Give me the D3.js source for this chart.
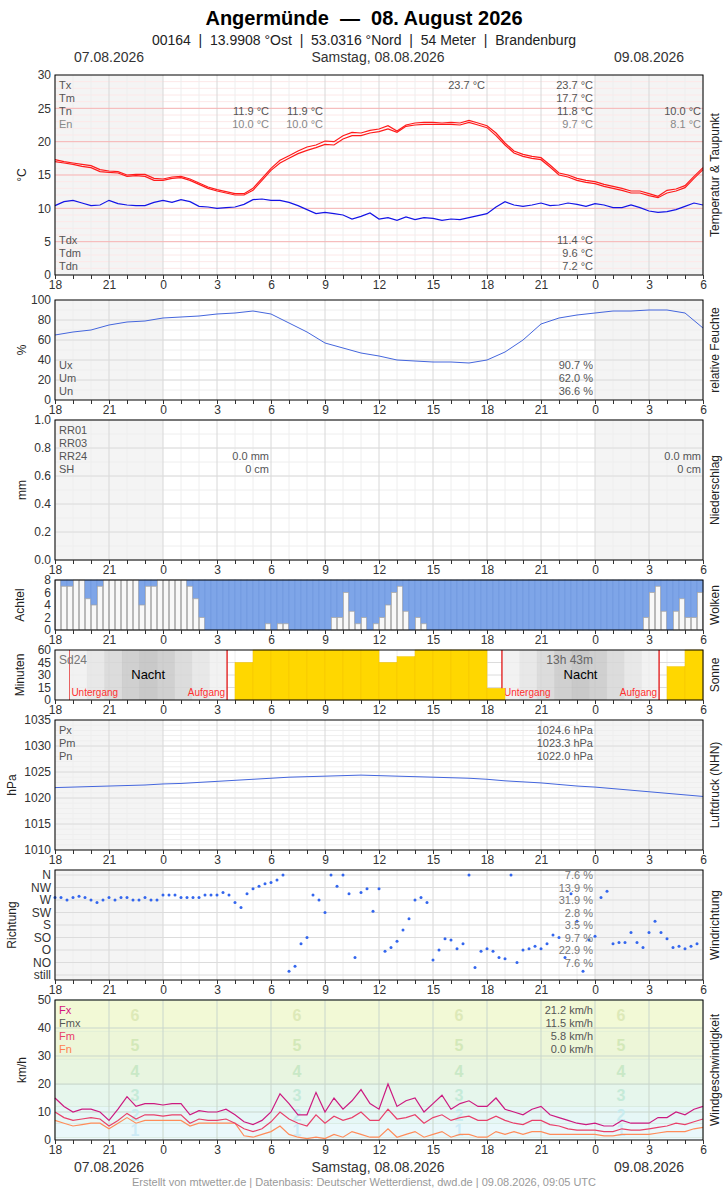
<!DOCTYPE html>
<html>
<head>
<meta charset="utf-8">
<script src="https://cdn.jsdelivr.net/npm/d3@7"></script>
<style>
  body { margin: 0; background: #fff; }
  svg text { font-family: "Liberation Sans", Arial, sans-serif; white-space: pre; }
</style>
</head>
<body>
<div id="chart"></div>
<script>
// hour offsets: 0 = 07.08. 18:00, 36 = 09.08. 06:00
var tempHi = [17.3,17.0,16.8,16.6,16.4,15.8,15.6,15.5,15.0,15.1,15.1,14.5,14.4,14.7,14.8,14.4,13.8,13.2,12.8,12.5,12.2,12.2,13.0,14.5,16.0,17.2,17.9,18.6,19.2,19.5,20.1,20.0,20.9,21.4,21.3,21.7,21.9,22.4,21.6,22.5,22.8,22.9,22.9,22.8,22.9,22.8,23.2,22.8,22.4,21.3,19.8,18.6,18.1,17.8,17.6,16.5,15.3,15.0,14.5,14.2,14.0,13.6,13.3,13.0,12.6,12.6,12.2,11.8,12.7,12.9,13.4,14.8,16.1];
var tempLo = [17.0,16.8,16.6,16.3,16.1,15.5,15.4,15.3,14.8,14.9,14.8,14.2,14.2,14.5,14.6,14.2,13.6,13.0,12.6,12.3,12.0,12.0,12.7,14.2,15.7,16.8,17.5,18.2,18.7,19.1,19.6,19.5,20.4,20.9,20.9,21.3,21.5,21.9,21.4,22.3,22.5,22.6,22.6,22.6,22.6,22.5,22.9,22.5,22.1,20.9,19.5,18.3,17.8,17.5,17.3,16.2,15.0,14.7,14.2,13.9,13.7,13.3,13.0,12.7,12.3,12.3,11.9,11.6,12.3,12.6,13.1,14.5,15.8];
var dewPoint = [10.4,11.0,11.2,10.8,10.4,10.5,11.2,10.7,10.5,10.4,10.4,10.9,11.2,10.9,11.3,11.0,10.3,10.2,10.0,10.1,10.2,10.6,11.3,11.4,11.2,11.2,10.9,10.4,9.8,9.2,9.4,9.2,9.0,8.4,8.8,9.3,8.4,8.6,8.2,8.7,8.3,8.6,8.5,8.2,8.4,8.3,8.6,8.9,9.2,10.2,11.0,10.5,10.3,10.5,10.8,10.4,10.5,10.8,10.6,10.3,10.7,10.5,10.1,10.1,10.5,10.1,9.6,9.4,9.5,9.8,10.3,10.8,10.5];
var humidity = [65,68,70,75,78,79,82,83,84,86,87,89,86,77,68,57,52,47,44,40,39,38,38,37,40,48,60,76,82,85,87,89,89,90,90,87,72];
var clouds = [8,7,7,8,8,5,4,7,8,8,8,8,8,8,4,7,7,8,8,8,8,8,7,5,2,0,0,0,0,0,0,0,0,0,0,1,0,1,1,0,0,0,0,0,0,0,2,2,6,3,1,2,0,1,2,4,6,7,3,0,2,1,0,0,0,0,0,0,0,0,0,0,0,0,0,0,0,0,0,0,0,0,0,0,0,0,0,0,0,0,0,0,0,0,0,0,0,0,2,6,7,3,0,3,5,2,2,6];
var sunMinutes = [0,0,0,0,0,0,0,0,0,0,45,60,60,60,60,60,60,60,45,52,60,60,60,60,14,0,0,0,0,0,0,0,0,0,40,60];
var nights = [[0.8, 9.56], [24.83, 33.56]];
var pressure = [1022.0,1022.1,1022.2,1022.3,1022.4,1022.5,1022.7,1022.8,1023.0,1023.2,1023.4,1023.6,1023.8,1024.0,1024.1,1024.2,1024.3,1024.4,1024.3,1024.2,1024.1,1024.0,1023.9,1023.8,1023.6,1023.3,1023.1,1022.9,1022.6,1022.3,1022.1,1021.8,1021.5,1021.2,1020.9,1020.6,1020.3];
var windDir = [6.2,6.2,6.0,6.2,6.3,6.2,6.0,5.8,6.0,6.2,6.0,6.2,6.2,6.0,6.0,6.2,6.0,6.0,6.4,6.4,6.4,6.2,6.2,6.2,6.2,6.4,6.4,6.4,6.6,6.4,5.8,5.4,6.5,6.9,7.1,7.3,7.4,7.6,8.0,0.3,0.7,2.5,3.0,6.4,6.0,5.0,8.0,7.1,8.0,6.5,1.4,6.6,6.9,5.1,6.9,1.9,2.2,2.7,3.6,4.5,6.0,6.2,5.8,1.2,2.0,2.9,2.8,2.1,2.5,8.0,0.6,1.9,2.1,1.9,1.4,1.3,8.0,1.0,2.0,2.1,2.3,2.1,2.5,3.2,3.0,1.4,6.5,4.3,0.3,2.8,3.1,6.2,6.7,2.5,2.6,2.6,3.4,2.6,2.2,3.4,4.3,3.4,2.9,2.2,2.3,2.1,2.3,2.5];
var dirLabels = ["still","NO","O","SO","S","SW","W","NW","N"];
var dirShares = ["","7.6 %","22.9 %","9.7 %","3.5 %","2.8 %","31.9 %","13.9 %","7.6 %"];
var gust = [15,12,10,11,11,10,7,11,15.5,12,13,13,12.5,13,13,9,10.5,10,10,11,9,6.5,5.5,7,10,16.5,13,9,9,17,10,15,11,14,18,13,11,20,12,14,15,10,13,16,11,13,14,12,12,15,11,10,9,11,12,9,8,7,6,5.5,6,5,5,7,6,6,6,8,8,10,9,11,12];
var windMean = [10,8,7,7.5,8,7.5,5,7,9.5,7.5,9,9,8.5,9,9,6,7.5,7,7,7.5,6,4,3,4,6.5,10,7.5,6,5,9,6,8.5,7,8,10,7,7,11,7.5,8,9,6,8,9,7,8,8.5,7,7,8.5,7,6,5.5,7,7,5.5,5,4,3.5,3.5,3.5,3,3,4,3.5,3.5,4,4.5,5,6,5.5,6.5,7.5];
var windMin = [7,6,5,5.5,6,6,4,6,8,6,7,7,7,7,7,5,6,6,6,6,6,1.5,1,2,3,5,2,1,0.5,1,0.5,2,1,3,2,1,1,4,1,2,3,1,2,3,1,2,2,1,1,3,2,3,2,3,3,2,2,2,2,2,2,1.5,1.5,2,2,2,2,2.5,3,3,3,4,4.5];
var beaufort = [0,1,6,12,20,29,39,50];
var beaufortFill = ["#f0fafd","#eaf8fb","#e6f7f6","#e6f6ec","#e8f5e0","#edf6d8","#f2f9d6"];
var beaufortText = ["","#cdebf7","#c8ecef","#c5ead8","#c9e8c6","#d3e8b8","#dde9b8"];

var W = 728, H = 1190, L = 55, R = 703;
var svg = d3.select("#chart").append("svg").attr("width", W).attr("height", H);
var x = d3.scaleLinear().domain([0, 36]).range([L, R]);

// headings
svg.append("text").attr("x", 364).attr("y", 25).attr("text-anchor", "middle")
  .style("font-size", "20px").style("font-weight", "bold").text("Angermünde  —  08. August 2026");
svg.append("text").attr("x", 364).attr("y", 45).attr("text-anchor", "middle").style("font-size", "14px")
  .attr("fill", "#222").text("00164  |  13.9908 °Ost  |  53.0316 °Nord  |  54 Meter  |  Brandenburg");
[62, 1172].forEach(function(y) {
  svg.append("text").attr("x", 109).attr("y", y).attr("text-anchor", "middle").style("font-size", "14px").attr("fill", "#333").text("07.08.2026");
  svg.append("text").attr("x", 378).attr("y", y).attr("text-anchor", "middle").style("font-size", "14px").attr("fill", "#333").text("Samstag, 08.08.2026");
  svg.append("text").attr("x", 649).attr("y", y).attr("text-anchor", "middle").style("font-size", "14px").attr("fill", "#333").text("09.08.2026");
});
svg.append("text").attr("x", 364).attr("y", 1186).attr("text-anchor", "middle").style("font-size", "11px").attr("fill", "#999")
  .text("Erstellt von mtwetter.de | Datenbasis: Deutscher Wetterdienst, dwd.de | 09.08.2026, 09:05 UTC");

function panel(top, bottom, domain, ticks, leftLabel, rightLabel, opts) {
  opts = opts || {};
  var y = d3.scaleLinear().domain(domain).range([bottom, top]);
  var g = svg.append("g");
  g.append("rect").attr("x", L).attr("y", top).attr("width", R - L).attr("height", bottom - top).attr("fill", "#fff");
  if (!opts.noShade) {
    g.append("rect").attr("x", x(0)).attr("y", top).attr("width", x(6) - x(0)).attr("height", bottom - top).attr("fill", "#f4f4f4");
    g.append("rect").attr("x", x(30)).attr("y", top).attr("width", x(36) - x(30)).attr("height", bottom - top).attr("fill", "#f4f4f4");
  }
  if (opts.minor) {
    g.selectAll(".mn").data(opts.minor).enter().append("line")
      .attr("x1", L).attr("x2", R).attr("y1", y).attr("y2", y).attr("stroke", opts.minorColor || "#eee");
  }
  g.selectAll(".vh").data(d3.range(0, 37)).enter().append("line")
    .attr("x1", x).attr("x2", x).attr("y1", top).attr("y2", bottom)
    .attr("stroke", function(d) { return d % 3 === 0 ? "#d8d8d8" : "#eeeeee"; });
  g.selectAll(".hz").data(opts.grid || ticks).enter().append("line")
    .attr("x1", L).attr("x2", R).attr("y1", y).attr("y2", y).attr("stroke", opts.gridColor || "#dcdcdc");
  var layer = svg.append("g");
  var axisG = svg.append("g");
  function finish() {
    axisG.append("rect").attr("x", L).attr("y", top).attr("width", R - L).attr("height", bottom - top)
      .attr("fill", "none").attr("stroke", "#000").attr("stroke-width", 1);
    axisG.append("g").attr("transform", "translate(0," + bottom + ")")
      .call(d3.axisBottom(x).tickValues(d3.range(0, 37)).tickSize(4).tickFormat(function(h) { return h % 3 === 0 ? (18 + h) % 24 : ""; }))
      .call(function(a) { a.select(".domain").remove(); a.selectAll("text").style("font-size", "12px").attr("fill", "#333").attr("dy", "0.6em"); a.selectAll("line").attr("stroke", "#333"); });
    axisG.append("g").attr("transform", "translate(" + L + ",0)")
      .call(d3.axisLeft(y).tickValues(ticks).tickSize(0).tickPadding(4).tickFormat(opts.fmt || d3.format("d")))
      .call(function(a) { a.select(".domain").remove(); a.selectAll("text").style("font-size", "12px").attr("fill", "#333"); });
    var mid = (top + bottom) / 2;
    axisG.append("text").attr("transform", "translate(" + (opts.lx || 26) + "," + mid + ") rotate(-90)").attr("text-anchor", "middle")
      .style("font-size", "12px").attr("fill", "#222").text(leftLabel);
    axisG.append("text").attr("transform", "translate(719," + mid + ") rotate(-90)").attr("text-anchor", "middle")
      .style("font-size", "12px").attr("fill", "#222").text(rightLabel);
  }
  return { y: y, g: layer, finish: finish, top: top, bottom: bottom };
}

function label(p, xx, yy, txt, anchor, color, size) {
  p.g.append("text").attr("x", xx).attr("y", yy).attr("text-anchor", anchor || "start")
    .style("font-size", (size || 11) + "px").attr("fill", color || "#555").text(txt);
}

// Temperature
var pT = panel(75, 275, [0, 30], [0, 5, 10, 15, 20, 25, 30], "°C", "Temperatur & Taupunkt",
  { grid: [5, 10, 15, 20, 25], gridColor: "#f5b5b5", minor: d3.range(1, 30), minorColor: "#fde8e8" });
var lineT = d3.line().x(function(d, i) { return x(i / 2); }).y(function(d) { return pT.y(d); });
[tempHi, tempLo].forEach(function(s) {
  pT.g.append("path").attr("d", lineT(s)).attr("fill", "none").attr("stroke", "#ff1a1a").attr("stroke-width", 1.2);
});
pT.g.append("path").attr("d", lineT(dewPoint)).attr("fill", "none").attr("stroke", "#1414e6").attr("stroke-width", 1.2);
["Tx", "Tm", "Tn", "En"].forEach(function(t, i) { label(pT, 59, 89 + i * 13, t, "start", i === 3 ? "#888" : "#555"); });
["Tdx", "Tdm", "Tdn"].forEach(function(t, i) { label(pT, 59, 244 + i * 13, t); });
label(pT, 485, 89, "23.7 °C", "end");
["23.7 °C", "17.7 °C", "11.8 °C", "9.7 °C"].forEach(function(t, i) { label(pT, 593, 89 + i * 13, t, "end", i === 3 ? "#888" : "#555"); });
[269, 323].forEach(function(xx) { label(pT, xx, 115, "11.9 °C", "end"); label(pT, xx, 128, "10.0 °C", "end", "#888"); });
label(pT, 701, 115, "10.0 °C", "end"); label(pT, 701, 128, "8.1 °C", "end", "#888");
["11.4 °C", "9.6 °C", "7.2 °C"].forEach(function(t, i) { label(pT, 593, 244 + i * 13, t, "end"); });
pT.finish();

// Humidity
var pU = panel(300, 400, [0, 100], [0, 20, 40, 60, 80, 100], "%", "relative Feuchte", { grid: [20, 40, 60, 80], minor: d3.range(10, 100, 10) });
pU.g.append("path").attr("d", d3.line().x(function(d, i) { return x(i); }).y(function(d) { return pU.y(d); })(humidity))
  .attr("fill", "none").attr("stroke", "#4466dd").attr("stroke-width", 1);
["Ux", "Um", "Un"].forEach(function(t, i) { label(pU, 59, 369 + i * 13, t); });
["90.7 %", "62.0 %", "36.6 %"].forEach(function(t, i) { label(pU, 593, 369 + i * 13, t, "end"); });
pU.finish();

// Precipitation
var pN = panel(420, 560, [0, 1], [0, 0.2, 0.4, 0.6, 0.8, 1.0], "mm", "Niederschlag", { fmt: d3.format(".1f"), minor: d3.range(0.1, 1, 0.1) });
["RR01", "RR03", "RR24", "SH"].forEach(function(t, i) { label(pN, 59, 434 + i * 13, t); });
[269, 701].forEach(function(xx) { label(pN, xx, 460, "0.0 mm", "end"); label(pN, xx, 473, "0 cm", "end"); });
pN.finish();

// Clouds
var pC = panel(580, 630, [0, 8], [0, 2, 4, 6, 8], "Achtel", "Wolken", { noShade: true, grid: [], lx: 24 });
var bw = (x(1 / 3) - x(0));
clouds.forEach(function(c, i) {
  var x0 = x(i / 3);
  pC.g.append("rect").attr("x", x0).attr("y", pC.y(8)).attr("width", bw).attr("height", pC.y(c) - pC.y(8))
    .attr("fill", "#7ea5e8").attr("stroke", "#6b93dc").attr("stroke-width", 0.5);
  if (c > 0) pC.g.append("rect").attr("x", x0 + 0.5).attr("y", pC.y(c)).attr("width", bw - 1).attr("height", pC.y(0) - pC.y(c))
    .attr("fill", "#f8f8f8").attr("stroke", "#a8a8a8").attr("stroke-width", 0.8);
});
pC.finish();

// Sunshine
var pS = panel(650, 700, [0, 60], [0, 15, 30, 45, 60], "Minuten", "Sonne", { noShade: true, grid: [15, 30, 45], lx: 24 });
nights.forEach(function(n) {
  var steps = ["#f0f0f0", "#e4e4e4", "#d6d6d6", "#c8c8c8", "#c0c0c0", "#c8c8c8", "#d6d6d6", "#e4e4e4", "#f0f0f0"];
  var span = (n[1] - n[0]) / steps.length;
  steps.forEach(function(c, k) {
    pS.g.append("rect").attr("x", x(n[0] + k * span)).attr("y", pS.y(60)).attr("width", x(span) - x(0) + 0.5)
      .attr("height", pS.y(0) - pS.y(60)).attr("fill", c).attr("opacity", 0.85);
  });
  [n[0], n[1]].forEach(function(v) {
    pS.g.append("line").attr("x1", x(v)).attr("x2", x(v)).attr("y1", pS.y(60)).attr("y2", pS.y(0)).attr("stroke", "#e00000").attr("stroke-width", 1.2);
  });
  label(pS, (x(n[0]) + x(n[1])) / 2, 679, "Nacht", "middle", "#000", 13);
  label(pS, x(n[0]) + 2, 696, "Untergang", "start", "#ff3030", 10);
  label(pS, x(n[1]) - 2, 696, "Aufgang", "end", "#ff3030", 10);
});
pS.g.append("rect").attr("x", x(0)).attr("y", pS.y(60)).attr("width", x(0.8) - x(0)).attr("height", 50).attr("fill", "#f4f4f4");
sunMinutes.forEach(function(m, h) {
  if (m > 0) pS.g.append("rect").attr("x", x(h)).attr("y", pS.y(m)).attr("width", x(1) - x(0)).attr("height", pS.y(0) - pS.y(m))
    .attr("fill", "#ffd700").attr("stroke", "#f2c200").attr("stroke-width", 0.5);
});
label(pS, 59, 664, "Sd24", "start", "#777", 12);
label(pS, 593, 664, "13h 43m", "end", "#666", 12);
pS.finish();

// Pressure
var pP = panel(720, 850, [1010, 1035], [1010, 1015, 1020, 1025, 1030, 1035], "hPa", "Luftdruck (NHN)",
  { grid: [1015, 1020, 1025, 1030], minor: d3.range(1011, 1035), lx: 16 });
pP.g.append("path").attr("d", d3.line().x(function(d, i) { return x(i); }).y(function(d) { return pP.y(d); })(pressure))
  .attr("fill", "none").attr("stroke", "#4466dd").attr("stroke-width", 1);
["Px", "Pm", "Pn"].forEach(function(t, i) { label(pP, 59, 734 + i * 13, t); });
["1024.6 hPa", "1023.3 hPa", "1022.0 hPa"].forEach(function(t, i) { label(pP, 593, 734 + i * 13, t, "end"); });
pP.finish();

// Wind direction
var pD = panel(870, 980, [-0.4, 8.4], d3.range(0, 9), "Richtung", "Windrichtung",
  { fmt: function(d) { return dirLabels[d]; }, lx: 16 });
windDir.forEach(function(v, i) {
  pD.g.append("circle").attr("cx", x(i / 3)).attr("cy", pD.y(v)).attr("r", 1.5).attr("fill", "#3366ee");
});
dirShares.forEach(function(t, k) { if (t) label(pD, 593, pD.y(k) + 4, t, "end", "#777", 11); });
pD.finish();

// Wind speed
var pF = panel(1000, 1140, [0, 50], [0, 10, 20, 30, 40, 50], "km/h", "Windgeschwindigkeit", { noShade: true, grid: [] });
beaufortFill.forEach(function(c, k) {
  pF.g.append("rect").attr("x", L).attr("y", pF.y(beaufort[k + 1])).attr("width", R - L)
    .attr("height", pF.y(beaufort[k]) - pF.y(beaufort[k + 1])).attr("fill", c);
  pF.g.append("line").attr("x1", L).attr("x2", R).attr("y1", pF.y(beaufort[k + 1])).attr("y2", pF.y(beaufort[k + 1])).attr("stroke", "#cfe3d6");
});
pF.g.selectAll(".fv").data(d3.range(0, 37)).enter().append("line").attr("x1", x).attr("x2", x)
  .attr("y1", 1000).attr("y2", 1140).attr("stroke", function(d) { return d % 3 === 0 ? "#c9d6cc" : "none"; });
[10, 20, 30, 40].forEach(function(v) {
  pF.g.append("line").attr("x1", L).attr("x2", R).attr("y1", pF.y(v)).attr("y2", pF.y(v)).attr("stroke", "#c9d6cc");
});
[4.44, 13.44, 22.44, 31.44].forEach(function(h) {
  for (var k = 1; k <= 6; k++) {
    pF.g.append("text").attr("x", x(h)).attr("y", pF.y((beaufort[k] + beaufort[k + 1]) / 2) + 6).attr("text-anchor", "middle")
      .style("font-size", "16px").style("font-weight", "bold").attr("fill", beaufortText[k]).text(k);
  }
});
var lineF = d3.line().x(function(d, i) { return x(i / 2); }).y(function(d) { return pF.y(d); });
[[windMin, "#ff8c5a"], [windMean, "#e8406a"], [gust, "#cc1a80"]].forEach(function(s) {
  pF.g.append("path").attr("d", lineF(s[0])).attr("fill", "none").attr("stroke", s[1]).attr("stroke-width", 1.2);
});
[["Fx", "#d4127e"], ["Fmx", "#555"], ["Fm", "#e8406a"], ["Fn", "#ff7f50"]].forEach(function(t, i) { label(pF, 59, 1014 + i * 13, t[0], "start", t[1]); });
["21.2 km/h", "11.5 km/h", "5.8 km/h", "0.0 km/h"].forEach(function(t, i) { label(pF, 593, 1014 + i * 13, t, "end"); });
pF.finish();
</script>
</body>
</html>
